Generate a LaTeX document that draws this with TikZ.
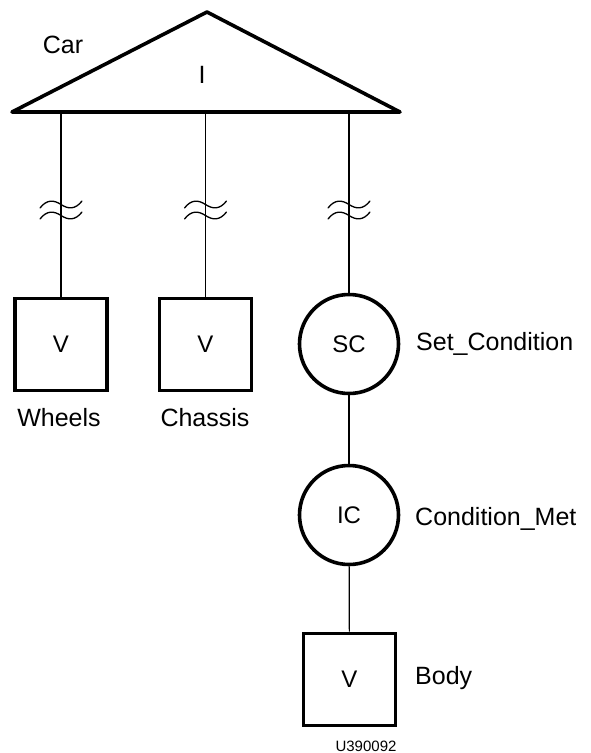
\documentclass[tikz,border=0pt]{standalone}
\usepackage{fontspec}
\setmainfont{Liberation Sans}
\usepackage{tikz}
\usetikzlibrary{positioning}

\begin{document}
\begin{tikzpicture}[
      x=10pt, y=10pt,
      vbox/.style={rectangle, draw, line width=3.6pt, minimum size=92pt, font=\fontsize{24}{28}\selectfont},
      cnode/.style={circle, draw, line width=3.6pt, minimum size=99pt, inner sep=0pt, font=\fontsize{24}{28}\selectfont},
      lbl/.style={font=\fontsize{25}{30}\selectfont, inner sep=0pt},
      link/.style={line width=1.2pt}
  ]
      \useasboundingbox (0,0) rectangle (59.1,-75.3);

      % Car triangle
      \draw[line width=3.6pt, line join=round] (1.2,-11.2) -- (20.7,-1.2) -- (40.0,-11.2) -- cycle;
      \node[lbl] (car) at (6.3,-4.5) {Car};
      \node[lbl] (carI) at (20.2,-7.5) {I};
      \coordinate (tw) at (6.1,-11.2);
      \coordinate (tc) at (20.55,-11.2);
      \coordinate (ts) at (34.9,-11.2);

      % Components
      \node[vbox] (wheels) at (6.1,-34.45) {V};
      \node[vbox] (chassis) at (20.55,-34.45) {V};
      \node[cnode] (sc) at (34.9,-34.4) {SC};
      \node[cnode] (ic) at (34.9,-51.5) {IC};
      \node[vbox] (body) at (34.95,-67.95) {V};

      \node[lbl] (wlab) at (5.9,-41.8) {Wheels};
      \node[lbl] (clab) at (20.5,-41.8) {Chassis};
      \node[lbl, anchor=west] (sclab) at (41.6,-34.4) {Set\_Condition};
      \node[lbl, anchor=west] (iclab) at (41.5,-51.9) {Condition\_Met};
      \node[lbl, anchor=west] (blab) at (41.5,-67.8) {Body};
      \node[font=\fontsize{15}{18}\selectfont, inner sep=0pt] (code) at (36.6,-74.6) {U390092};

      \draw[link] (tw) -- (wheels);
      \draw[link] (tc) -- (chassis);
      \draw[link] (ts) -- (sc);
      \draw[link] (sc) -- (ic);
      \draw[link] (ic) -- (body);

      % breaks
      \foreach \x in {6.1, 20.55, 34.9} {
        \foreach \y in {-20.45, -21.55} {
          \draw[line width=1.3pt, line cap=round] (\x-2.1,\y-0.35) .. controls (\x-1.4,\y+0.55) and (\x-0.7,\y+0.45) .. (\x,\y)
            .. controls (\x+0.7,\y-0.45) and (\x+1.4,\y-0.55) .. (\x+2.1,\y+0.35);
        }
      }
  \end{tikzpicture}
\end{document}
